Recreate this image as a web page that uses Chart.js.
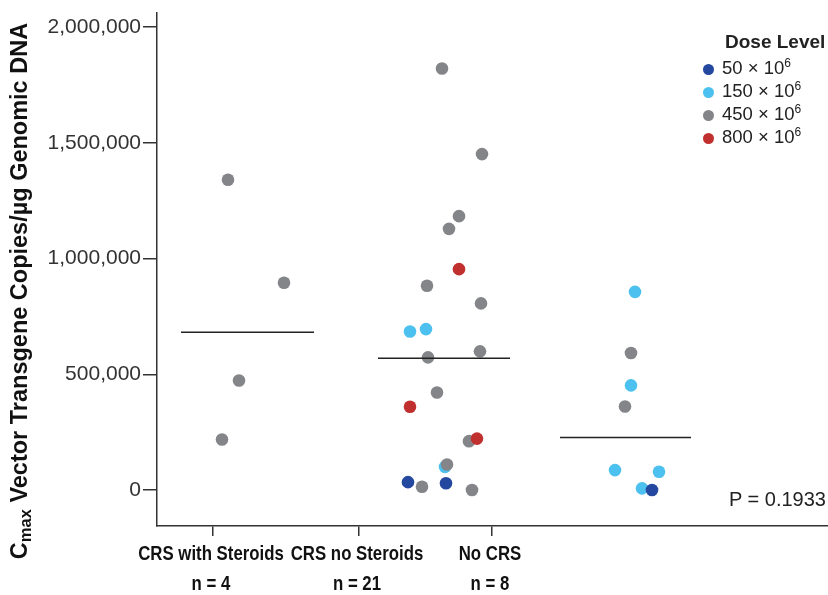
<!DOCTYPE html>
<html>
<head>
<meta charset="utf-8">
<script src="https://cdn.jsdelivr.net/npm/chart.js@4.4.1/dist/chart.umd.min.js"></script>
<style>
    body { margin: 0; background: #fff; }
    #wrap { position: relative; width: 828px; height: 595px; }
    #legend { position: absolute; left: 703px; top: 31px; font-family: "Liberation Sans", Arial, sans-serif; color: #222; }
    #legend .title { font-weight: bold; font-size: 19px; margin-left: 22px; margin-bottom: 3px; }
    #legend .row { font-size: 18.5px; height: 23px; line-height: 23px; white-space: nowrap; }
    #legend .dot { display: inline-block; width: 11px; height: 11px; border-radius: 50%; margin-right: 8px; vertical-align: -1px; }
    #legend sup { font-size: 12px; vertical-align: 7px; line-height: 0; }
    #pval { position: absolute; left: 729px; top: 488px; font-family: "Liberation Sans", Arial, sans-serif; font-size: 20px; color: #222; }
</style>
</head>
<body>
<div id="wrap">
    <canvas id="chart" width="828" height="595"></canvas>
    <div id="legend"></div>
    <div id="pval">P = 0.1933</div>
</div>
<script>
    // groups on the x axis
    const groups = ['CRS with Steroids', 'CRS no Steroids', 'No CRS'];
    const groupN = [4, 21, 8];
    const groupTickPos = [56, 202, 335];

    const yTicks = [0, 500000, 1000000, 1500000, 2000000];

    // dose levels: legend label (base + superscript) and colour
    const doseNames = ['50 × 10', '150 × 10', '450 × 10', '800 × 10'];
    const doseColors = ['#2448a0', '#4cc0ee', '#848589', '#c0302e'];

    // [jitter position, Cmax] per dose level
    const dose50 = [[251, 34000], [289, 29000], [495, 0]];
    const dose150 = [[253, 685000], [269, 695000], [288, 100000],
        [478, 856000], [474, 452000], [458, 86000], [502, 79000], [485, 7000]];
    const dose450 = [[71, 1340000], [127, 895000], [82, 473000], [65, 218000],
        [285, 1821000], [325, 1451000], [302, 1183000], [292, 1128000], [270, 882000],
        [324, 806000], [323, 599000], [271, 573000], [280, 421000], [312, 211000],
        [290, 110000], [265, 14000], [315, 0],
        [474, 592000], [468, 361000]];
    const dose800 = [[302, 954000], [253, 360000], [320, 222000]];

    // median lines: [start, end, value]
    const medians = [[24, 157, 681000], [221, 353, 569000], [403, 534, 227000]];

    const doseData = [dose50, dose150, dose450, dose800];
    const drawOrder = [2, 4, 3, 1]; // lower = on top

    const datasets = [];
    doseData.forEach((pts, i) => {
        datasets.push({
            type: 'scatter',
            label: doseNames[i],
            data: pts.map(p => ({ x: p[0], y: p[1] })),
            backgroundColor: doseColors[i],
            borderWidth: 0,
            pointRadius: 6.3,
            pointHoverRadius: 6.3,
            order: drawOrder[i]
        });
    });
    medians.forEach(m => {
        datasets.push({
            type: 'line',
            data: [{ x: m[0], y: m[2] }, { x: m[1], y: m[2] }],
            borderColor: '#222',
            borderWidth: 1.5,
            pointRadius: 0,
            order: 0
        });
    });

    // y axis title with subscript "max"
    const yTitle = {
        id: 'yTitle',
        afterDraw(chart) {
            const ctx = chart.ctx;
            const big = 'bold 23.5px "Liberation Sans", Arial, sans-serif';
            const small = 'bold 16.5px "Liberation Sans", Arial, sans-serif';
            const rest = ' Vector Transgene Copies/µg Genomic DNA';
            ctx.save();
            ctx.fillStyle = '#111';
            ctx.textBaseline = 'middle';
            ctx.font = big;
            const wC = ctx.measureText('C').width;
            const wR = ctx.measureText(rest).width;
            ctx.font = small;
            const wM = ctx.measureText('max').width;
            const total = wC + wM + wR;
            ctx.translate(21, 291);
            ctx.rotate(-Math.PI / 2);
            let x = -total / 2;
            ctx.font = big;
            ctx.fillText('C', x, 0);
            x += wC;
            ctx.font = small;
            ctx.fillText('max', x, 5);
            x += wM;
            ctx.font = big;
            ctx.fillText(rest, x, 0);
            ctx.restore();
        }
    };

    // narrow bold category labels under the x ticks
    const xLabels = {
        id: 'xLabels',
        afterDraw(chart) {
            const ctx = chart.ctx;
            const xs = chart.scales.x;
            const base = xs.top;
            ctx.save();
            ctx.fillStyle = '#111';
            ctx.textAlign = 'center';
            ctx.textBaseline = 'alphabetic';
            ctx.font = 'bold 21px "Liberation Sans", Arial, sans-serif';
            groupTickPos.forEach((v, i) => {
                const px = xs.getPixelForValue(v);
                [groups[i], 'n = ' + groupN[i]].forEach((line, j) => {
                    ctx.save();
                    ctx.translate(px - 2, base + 34 + j * 30);
                    ctx.scale(0.8, 1);
                    ctx.fillText(line, 0, 0);
                    ctx.restore();
                });
            });
            ctx.restore();
        }
    };

    new Chart(document.getElementById('chart'), {
        data: { datasets: datasets },
        options: {
            responsive: false,
            animation: false,
            devicePixelRatio: 1,
            layout: { autoPadding: false, padding: { top: 13, right: 0, left: 0, bottom: 0 } },
            plugins: { legend: { display: false }, tooltip: { enabled: false } },
            scales: {
                x: {
                    type: 'linear',
                    min: 0,
                    max: 671,
                    afterBuildTicks: axis => { axis.ticks = groupTickPos.map(v => ({ value: v })); },
                    afterFit: axis => { axis.height = 69; axis.paddingLeft = 0; axis.paddingRight = 0; },
                    border: { display: true, color: '#333', width: 1.5 },
                    grid: { drawOnChartArea: false, drawTicks: true, tickLength: 10, color: '#333', lineWidth: 1.5 },
                    ticks: { display: false }
                },
                y: {
                    min: -155400,
                    max: 2060400,
                    afterBuildTicks: axis => { axis.ticks = yTicks.map(v => ({ value: v })); },
                    afterFit: axis => { axis.width = 157; axis.paddingTop = 0; axis.paddingBottom = 0; },
                    border: { display: true, color: '#333', width: 1.5 },
                    grid: { drawOnChartArea: false, drawTicks: true, tickLength: 14, color: '#333', lineWidth: 1.5 },
                    ticks: {
                        padding: 2,
                        color: '#333',
                        font: { family: '"Liberation Sans", Arial, sans-serif', size: 21 },
                        callback: v => v.toLocaleString('en-US')
                    }
                }
            }
        },
        plugins: [yTitle, xLabels]
    });

    // html legend
    const legend = document.getElementById('legend');
    let html = '<div class="title">Dose Level</div>';
    doseNames.forEach((n, i) => {
        html += '<div class="row"><span class="dot" style="background:' + doseColors[i] + '"></span>' + n + '<sup>6</sup></div>';
    });
    legend.innerHTML = html;
</script>
</body>
</html>
